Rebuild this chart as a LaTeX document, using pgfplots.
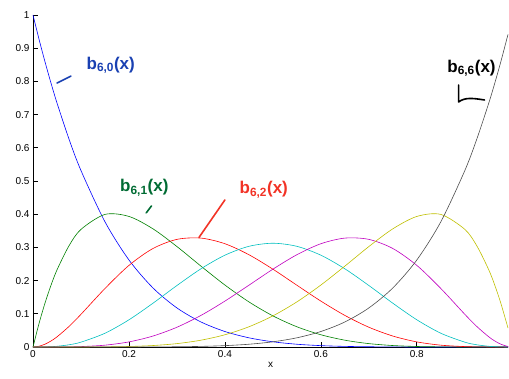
\documentclass[border=0pt]{standalone}
\usepackage{pgfplots}
\pgfplotsset{compat=1.18}
\usepackage{pgfplotstable}
\usepackage{fontspec}
\setmainfont{Liberation Sans}

\definecolor{mb}{rgb}{0,0,1}
\definecolor{mg}{rgb}{0,0.5,0}
\definecolor{mr}{rgb}{1,0,0}
\definecolor{mc}{rgb}{0,0.75,0.75}
\definecolor{mm}{rgb}{0.75,0,0.75}
\definecolor{my}{rgb}{0.75,0.75,0}
\definecolor{mk}{rgb}{0.3,0.3,0.3}
\definecolor{hb}{rgb}{0.1,0.25,0.7}
\definecolor{hg}{rgb}{0.0,0.42,0.2}
\definecolor{hr}{rgb}{0.95,0.2,0.15}

\pgfplotstableread{
x b0 b1 b2 b3 b4 b5 b6
0 1 0 0 0 0 0 0
0.0125 0.927306 0.070428 0.002229 0.0000376 0 0 0
0.025 0.859069 0.132164 0.008472 0.00029 0.0000056 0 0
0.0375 0.795067 0.185860 0.018103 0.00094 0.0000275 0 0
0.05 0.735092 0.232134 0.030544 0.002143 0.0000846 0.0000018 0
0.075 0.626398 0.304734 0.061770 0.006678 0.000406 0.0000132 0
0.10 0.531441 0.354294 0.098415 0.01458 0.001215 0.000054 0.000001
0.15 0.377150 0.399335 0.176177 0.041453 0.005487 0.000387 0.0000114
0.20 0.262144 0.393216 0.24576 0.08192 0.01536 0.001536 0.000064
0.25 0.177979 0.355957 0.296631 0.131836 0.032959 0.004395 0.000244
0.30 0.117649 0.302526 0.324135 0.18522 0.059535 0.010206 0.000729
0.35 0.075419 0.243661 0.328005 0.235491 0.095102 0.020484 0.001838
0.40 0.046656 0.186624 0.31104 0.27648 0.13824 0.036864 0.004096
0.45 0.027681 0.135887 0.277950 0.303218 0.186066 0.060894 0.008304
0.50 0.015625 0.09375 0.234375 0.3125 0.234375 0.09375 0.015625
0.55 0.008304 0.060894 0.186066 0.303218 0.277950 0.135887 0.027681
0.60 0.004096 0.036864 0.13824 0.27648 0.31104 0.186624 0.046656
0.65 0.001838 0.020484 0.095102 0.235491 0.328005 0.243661 0.075419
0.70 0.000729 0.010206 0.059535 0.18522 0.324135 0.302526 0.117649
0.75 0.000244 0.004395 0.032959 0.131836 0.296631 0.355957 0.177979
0.80 0.000064 0.001536 0.01536 0.08192 0.24576 0.393216 0.262144
0.85 0.0000114 0.000387 0.005487 0.041453 0.176177 0.399335 0.377150
0.90 0.000001 0.000054 0.001215 0.01458 0.098415 0.354294 0.531441
0.925 0 0.0000132 0.000406 0.006678 0.061770 0.304734 0.626398
0.95 0 0.0000018 0.0000846 0.002143 0.030544 0.232134 0.735092
0.9625 0 0 0.0000275 0.00094 0.018103 0.185860 0.795067
0.975 0 0 0.0000056 0.00029 0.008472 0.132164 0.859069
0.99 0 0 0 0.0000194 0.001441 0.057059 0.941480
}\bern

\begin{document}
\begin{tikzpicture}
\begin{axis}[
  name=ax,
  scale only axis,
  width=475pt, height=332pt,
  xmin=0, xmax=0.99, ymin=0, ymax=1,
  axis x line*=bottom, axis y line*=left,
  axis line style={black, line width=0.7pt},
  tick align=inside,
  major tick length=5pt,
  tick style={black, line width=0.7pt},
  xtick={0,0.2,0.4,0.6,0.8},
  ytick={0,0.1,0.2,0.3,0.4,0.5,0.6,0.7,0.8,0.9,1},
  xticklabels={0,0.2,0.4,0.6,0.8},
  yticklabels={0,0.1,0.2,0.3,0.4,0.5,0.6,0.7,0.8,0.9,1},
  ticklabel style={font=\fontsize{10}{12}\selectfont},
  xlabel={x},
  xlabel style={font=\fontsize{10}{12}\selectfont, yshift=2pt},
  clip=false,
  every axis plot/.append style={line width=0.6pt, smooth, no markers},
]
\addplot[mb] table[x=x,y=b0]{\bern};
\addplot[mg] table[x=x,y=b1]{\bern};
\addplot[mr] table[x=x,y=b2]{\bern};
\addplot[mc] table[x=x,y=b3]{\bern};
\addplot[mm] table[x=x,y=b4]{\bern};
\addplot[my] table[x=x,y=b5]{\bern};
\addplot[mk] table[x=x,y=b6]{\bern};

% handwritten-style annotations
\node[text=hb, font=\fontsize{17}{20}\bfseries\selectfont] at (axis cs:0.162,0.849) {b\textsubscript{6,0}(x)};
\draw[hb, line width=1.6pt, line cap=round] (axis cs:0.050,0.795) -- (axis cs:0.079,0.816);
\node[text=hg, font=\fontsize{17}{20}\bfseries\selectfont] at (axis cs:0.232,0.479) {b\textsubscript{6,1}(x)};
\draw[hg, line width=1.6pt, line cap=round] (axis cs:0.236,0.404) -- (axis cs:0.247,0.425);
\node[text=hr, font=\fontsize{17}{20}\bfseries\selectfont] at (axis cs:0.481,0.473) {b\textsubscript{6,2}(x)};
\draw[hr, line width=1.6pt, line cap=round] (axis cs:0.346,0.330) -- (axis cs:0.400,0.443);
\node[text=black, font=\fontsize{17}{20}\bfseries\selectfont] at (axis cs:0.914,0.840) {b\textsubscript{6,6}(x)};
\draw[black, line width=1.6pt, line cap=round, line join=round] (axis cs:0.887,0.789) -- (axis cs:0.887,0.738) .. controls (axis cs:0.900,0.752) and (axis cs:0.915,0.750) .. (axis cs:0.941,0.744);
\end{axis}
\pgfresetboundingbox
\path[use as bounding box] (-33pt,-32pt) rectangle (476pt,347pt);
\end{tikzpicture}
\end{document}
